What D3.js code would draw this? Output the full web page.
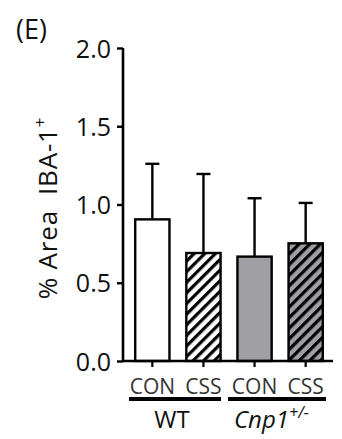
<!DOCTYPE html>
<html>
<head>
<meta charset="utf-8">
<script src="https://cdn.jsdelivr.net/npm/d3@7"></script>
<style>
  body { margin: 0; background: #fff; }
  svg { display: block; font-family: "Open Sans", "DejaVu Sans", sans-serif; }
</style>
</head>
<body>
<script>
// data
const categories = ["WT-CON", "WT-CSS", "KO-CON", "KO-CSS"];
const tickLabels = ["CON", "CSS", "CON", "CSS"];
const means = [0.905, 0.69, 0.667, 0.752];
const errTop = [1.26, 1.195, 1.04, 1.01];
const fills = ["#ffffff", "#ffffff", "#a0a0a4", "#a0a0a4"];
const hatched = [false, true, false, true];
const yTicks = [0, 0.5, 1.0, 1.5, 2.0];

const width = 342, height = 439;
const margin = { top: 48, right: 10, bottom: 78, left: 123 };

const svg = d3.select("body").append("svg")
  .attr("width", width)
  .attr("height", height);

const defs = svg.append("defs");
["hatchW", "hatchG"].forEach((id, i) => {
  const p = defs.append("pattern")
    .attr("id", id)
    .attr("patternUnits", "userSpaceOnUse")
    .attr("width", 7.5)
    .attr("height", 7.5)
    .attr("patternTransform", "rotate(45)");
  p.append("rect").attr("width", 7.5).attr("height", 7.5)
    .attr("fill", i === 0 ? "#ffffff" : "#a0a0a4");
  p.append("rect").attr("x", 0).attr("width", 3.2).attr("height", 7.5).attr("fill", "#000");
});

const x = d3.scaleBand()
  .domain(categories)
  .range([margin.left + 2, 333])
  .paddingInner(0.33)
  .paddingOuter(0.2);

const y = d3.scaleLinear()
  .domain([0, 2])
  .range([361, 48]);

// bars
svg.append("g").selectAll("rect")
  .data(categories)
  .join("rect")
    .attr("x", d => x(d))
    .attr("y", (d, i) => y(means[i]))
    .attr("width", x.bandwidth())
    .attr("height", (d, i) => y(0) - y(means[i]))
    .attr("fill", (d, i) => hatched[i] ? (i < 2 ? "url(#hatchW)" : "url(#hatchG)") : fills[i])
    .attr("stroke", "#000")
    .attr("stroke-width", 2.4);

// error bars
const eb = svg.append("g").attr("stroke", "#000").attr("stroke-width", 2.4);
categories.forEach((d, i) => {
  const cx = x(d) + x.bandwidth() / 2;
  eb.append("line")
    .attr("x1", cx).attr("x2", cx)
    .attr("y1", y(means[i])).attr("y2", y(errTop[i]));
  eb.append("line")
    .attr("x1", cx - 7).attr("x2", cx + 7)
    .attr("y1", y(errTop[i])).attr("y2", y(errTop[i]));
});

// y axis
const yAxis = svg.append("g")
  .attr("transform", `translate(${margin.left},0)`)
  .call(d3.axisLeft(y).tickValues(yTicks).tickFormat(d3.format(".1f")).tickSize(6).tickSizeOuter(0));
yAxis.select(".domain").attr("stroke-width", 2.6).attr("d", `M0,${y(2)}V${y(0) + 1}`);
yAxis.selectAll(".tick line").attr("stroke-width", 2.4);
yAxis.selectAll(".tick text")
  .attr("x", -12)
  .attr("dy", "0.36em")
  .attr("font-size", 25)
  .attr("font-family", "Open Sans, sans-serif")
  .attr("fill", "#111");

// x axis
const xAxis = svg.append("g")
  .attr("transform", `translate(0,${y(0)})`)
  .call(d3.axisBottom(x).tickSize(6).tickSizeOuter(0).tickFormat((d, i) => tickLabels[i]));
xAxis.select(".domain").attr("stroke-width", 2.6).attr("d", `M${margin.left},0H333`);
xAxis.selectAll(".tick line").attr("stroke-width", 2.2);
xAxis.selectAll(".tick text")
  .attr("y", 33)
  .attr("dy", "0")
  .attr("font-size", 21)
  .attr("font-family", "Open Sans, sans-serif")
  .attr("fill", "#333");

// group lines
svg.append("line")
  .attr("x1", 129).attr("x2", 221)
  .attr("y1", 399).attr("y2", 399)
  .attr("stroke", "#000").attr("stroke-width", 4);
svg.append("line")
  .attr("x1", 228).attr("x2", 326)
  .attr("y1", 399).attr("y2", 399)
  .attr("stroke", "#000").attr("stroke-width", 4);

svg.append("text")
  .attr("x", 172).attr("y", 428)
  .attr("text-anchor", "middle")
  .attr("font-size", 24)
  .attr("fill", "#111")
  .text("WT");

const cnp = svg.append("text")
  .attr("x", 234).attr("y", 428)
  .attr("font-size", 24)
  .attr("font-style", "italic")
  .attr("fill", "#111");
cnp.append("tspan").text("Cnp1");
cnp.append("tspan").attr("dy", -10).attr("font-size", 16).text("+/-");

// y label
const yl = svg.append("text")
  .attr("transform", `translate(57,208) rotate(-90)`)
  .attr("text-anchor", "middle")
  .attr("font-size", 26)
  .attr("letter-spacing", 0.8)
  .attr("fill", "#111")
  .style("white-space", "pre");
yl.append("tspan").text("% Area  IBA-1");
yl.append("tspan").attr("dy", -11).attr("font-size", 17).text("+");

// panel letter
svg.append("text")
  .attr("x", 16).attr("y", 39)
  .attr("font-size", 27)
  .attr("fill", "#111")
  .text("(E)");
</script>
</body>
</html>
